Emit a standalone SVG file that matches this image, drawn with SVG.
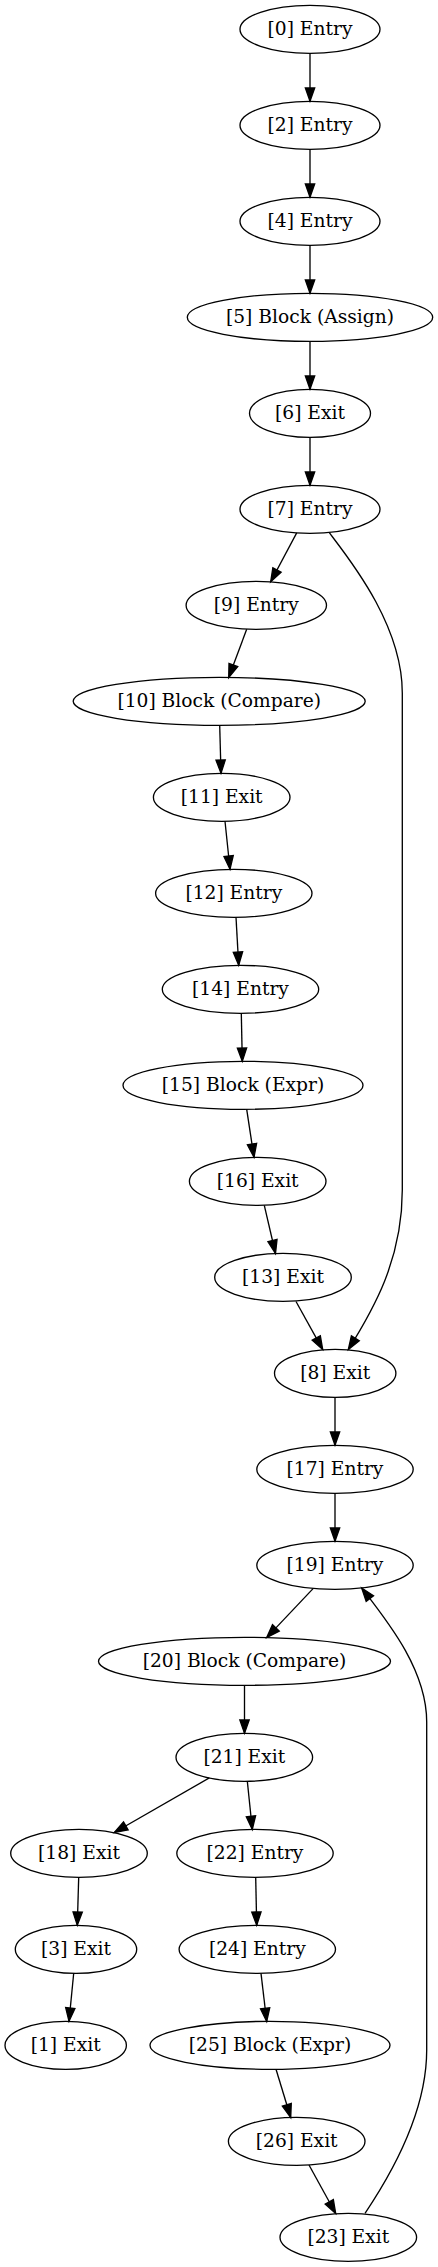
<svg xmlns="http://www.w3.org/2000/svg" width="438" height="2267" viewBox="0 0 438 2267">
<style>
.n ellipse{fill:none;stroke:#000;stroke-width:1.33}
.n text{font-family:"DejaVu Serif","Liberation Serif",serif;font-size:18.67px;text-anchor:middle;fill:#000}
#edges path{fill:none;stroke:#000;stroke-width:1.33;marker-end:url(#arr)}
</style>
<defs>
<marker id="arr" markerUnits="userSpaceOnUse" markerWidth="16" markerHeight="12" refX="13.33" refY="4.67" orient="auto" overflow="visible">
<path d="M0,0 L13.33,4.67 L0,9.33 Z" fill="#000" stroke="#000" stroke-width="1.33"/>
</marker>
</defs>
<rect width="438" height="2267" fill="#fff"/>
<g id="edges">
<path d="M310,53.33 L310,101.33"/>
<path d="M310,149.33 L310,197.33"/>
<path d="M310,245.33 L310,293.33"/>
<path d="M310,341.33 L310,389.33"/>
<path d="M310,437.33 L310,485.33"/>
<path d="M296.7,532.9 L270.7,581.8"/>
<path d="M329.3,532.7 C350,560 402.3,625 402.3,693 L402.3,1190 C402.3,1260 373,1310 348.3,1349.6"/>
<path d="M246.7,629.3 L228.7,677.5"/>
<path d="M219.7,725.3 L221,773.3"/>
<path d="M225,821.3 L230,869.3"/>
<path d="M236,917.3 L238.7,965.3"/>
<path d="M241.3,1013.3 L242.3,1061.3"/>
<path d="M246.7,1109.3 L254,1157.3"/>
<path d="M264.3,1205.3 L275.5,1253.5"/>
<path d="M296,1301.5 L322.7,1349.6"/>
<path d="M335,1397.33 L335,1445.33"/>
<path d="M335,1493.33 L335,1541.33"/>
<path d="M313.3,1588.4 L266.7,1637.6"/>
<path d="M244.5,1685.33 L244.5,1733.33"/>
<path d="M209.3,1777.9 L114.3,1832.5"/>
<path d="M247.3,1781 L252.3,1829.5"/>
<path d="M78.7,1877.3 L77.3,1925.3"/>
<path d="M255.7,1877.3 L256.7,1925.3"/>
<path d="M73.7,1973.3 L69,2021.3"/>
<path d="M261,1973.3 L266.7,2021.5"/>
<path d="M276,2069.3 L290.7,2117.5"/>
<path d="M309,2165 L335.7,2213.5"/>
<path d="M365,2213.3 C382,2188 426.7,2120 426.7,2050 L426.7,1722 C426.7,1670 388,1622 361.7,1588"/>
</g>
<g id="n0" class="n"><ellipse cx="310" cy="29.33" rx="70" ry="24"/><text x="310" y="34.93">[0] Entry</text></g>
<g id="n2" class="n"><ellipse cx="310" cy="125.33" rx="70" ry="24"/><text x="310" y="130.93">[2] Entry</text></g>
<g id="n4" class="n"><ellipse cx="310" cy="221.33" rx="70" ry="24"/><text x="310" y="226.93">[4] Entry</text></g>
<g id="n5" class="n"><ellipse cx="310" cy="317.33" rx="122.7" ry="24"/><text x="310" y="322.93">[5] Block (Assign)</text></g>
<g id="n6" class="n"><ellipse cx="310" cy="413.33" rx="60.5" ry="24"/><text x="310" y="418.93">[6] Exit</text></g>
<g id="n7" class="n"><ellipse cx="310" cy="509.33" rx="70" ry="24"/><text x="310" y="514.93">[7] Entry</text></g>
<g id="n9" class="n"><ellipse cx="256.3" cy="605.33" rx="70.2" ry="24"/><text x="256.3" y="610.93">[9] Entry</text></g>
<g id="n10" class="n"><ellipse cx="219.2" cy="701.33" rx="146" ry="24"/><text x="219.2" y="706.93">[10] Block (Compare)</text></g>
<g id="n11" class="n"><ellipse cx="221.7" cy="797.33" rx="68.3" ry="24"/><text x="221.7" y="802.93">[11] Exit</text></g>
<g id="n12" class="n"><ellipse cx="233.8" cy="893.33" rx="78.2" ry="24"/><text x="233.8" y="898.93">[12] Entry</text></g>
<g id="n14" class="n"><ellipse cx="240.5" cy="989.33" rx="78.2" ry="24"/><text x="240.5" y="994.93">[14] Entry</text></g>
<g id="n15" class="n"><ellipse cx="243" cy="1085.33" rx="120" ry="24"/><text x="243" y="1090.93">[15] Block (Expr)</text></g>
<g id="n16" class="n"><ellipse cx="257.7" cy="1181.33" rx="68.3" ry="24"/><text x="257.7" y="1186.93">[16] Exit</text></g>
<g id="n13" class="n"><ellipse cx="283" cy="1277.33" rx="68.3" ry="24"/><text x="283" y="1282.93">[13] Exit</text></g>
<g id="n8" class="n"><ellipse cx="335.2" cy="1373.33" rx="60.7" ry="24"/><text x="335.2" y="1378.93">[8] Exit</text></g>
<g id="n17" class="n"><ellipse cx="335" cy="1469.33" rx="78.2" ry="24"/><text x="335" y="1474.93">[17] Entry</text></g>
<g id="n19" class="n"><ellipse cx="335" cy="1565.33" rx="78.2" ry="24"/><text x="335" y="1570.93">[19] Entry</text></g>
<g id="n20" class="n"><ellipse cx="244.5" cy="1661.33" rx="146" ry="24"/><text x="244.5" y="1666.93">[20] Block (Compare)</text></g>
<g id="n21" class="n"><ellipse cx="244.3" cy="1757.33" rx="68.3" ry="24"/><text x="244.3" y="1762.93">[21] Exit</text></g>
<g id="n18" class="n"><ellipse cx="79" cy="1853.33" rx="68.3" ry="24"/><text x="79" y="1858.93">[18] Exit</text></g>
<g id="n22" class="n"><ellipse cx="255" cy="1853.33" rx="78.2" ry="24"/><text x="255" y="1858.93">[22] Entry</text></g>
<g id="n3" class="n"><ellipse cx="76" cy="1949.33" rx="60.7" ry="24"/><text x="76" y="1954.93">[3] Exit</text></g>
<g id="n24" class="n"><ellipse cx="257.3" cy="1949.33" rx="78.2" ry="24"/><text x="257.3" y="1954.93">[24] Entry</text></g>
<g id="n1" class="n"><ellipse cx="65.7" cy="2045.33" rx="60.7" ry="24"/><text x="65.7" y="2050.93">[1] Exit</text></g>
<g id="n25" class="n"><ellipse cx="270" cy="2045.33" rx="120" ry="24"/><text x="270" y="2050.93">[25] Block (Expr)</text></g>
<g id="n26" class="n"><ellipse cx="296.7" cy="2141.33" rx="68.3" ry="24"/><text x="296.7" y="2146.93">[26] Exit</text></g>
<g id="n23" class="n"><ellipse cx="348.3" cy="2237.33" rx="68.3" ry="24"/><text x="348.3" y="2242.93">[23] Exit</text></g>
</svg>
